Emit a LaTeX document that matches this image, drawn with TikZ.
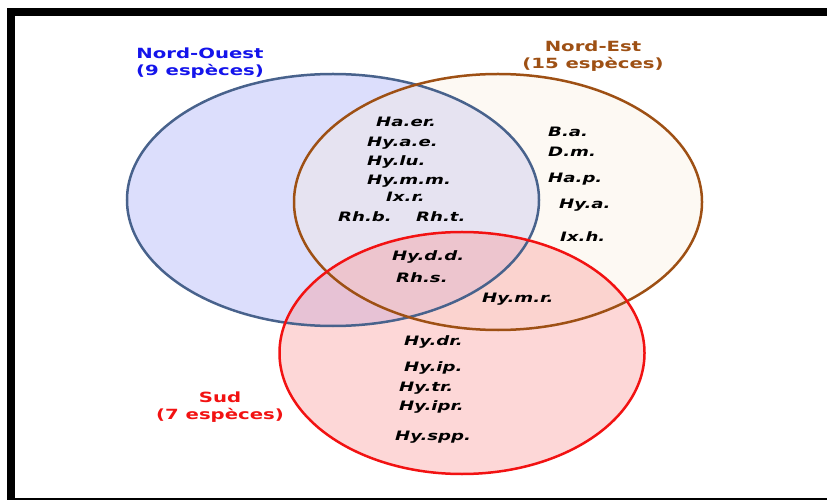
\documentclass[tikz,border=0pt]{standalone}
\usepackage{fontspec}
\usepackage{tikz}
\newfontfamily\vfont[FakeStretch=1.4]{DejaVu Sans}
\usetikzlibrary{positioning}
\definecolor{nwblue}{RGB}{72,98,140}
\definecolor{nwfill}{RGB}{220,222,252}
\definecolor{nwtext}{RGB}{20,20,235}
\definecolor{nebrown}{RGB}{158,80,20}
\definecolor{nefill}{RGB}{250,238,222}
\definecolor{sred}{RGB}{242,18,18}
\definecolor{sfill}{RGB}{250,150,150}
\tikzset{
  zone/.style={font=\vfont\bfseries\fontsize{14.1}{16.5}\selectfont, align=center, inner sep=0pt},
  sp/.style={font=\vfont\bfseries\itshape\fontsize{13}{14}\selectfont, anchor=west,
    inner sep=0pt, text height=9.5bp, text depth=0pt},
  ring/.style={line width=2.5bp}
}

\begin{document}
\begin{tikzpicture}[x=1bp, y=-1bp]
    \clip (0,0) rectangle (827,500);
    \fill [white] (0,0) rectangle (827,500);
    \draw [line width=8bp] (11,12) rectangle (840,502);

    % zones
    \fill [nwfill] (333,200) ellipse [x radius=206bp, y radius=126bp];
    \fill [nefill, opacity=0.35] (498,202) ellipse [x radius=204bp, y radius=128bp];
    \fill [sfill, opacity=0.38] (462,353) ellipse [x radius=182.5bp, y radius=121bp];
    \draw [ring, nwblue] (333,200) ellipse [x radius=206bp, y radius=126bp];
    \draw [ring, nebrown] (498,202) ellipse [x radius=204bp, y radius=128bp];
    \draw [ring, sred] (462,353) ellipse [x radius=182.5bp, y radius=121bp];

    \node [zone, text=nwtext] (no) at (200,63) {Nord-Ouest\\(9 espèces)};
    \node [zone, text=nebrown] (ne) at (593,56) {Nord-Est\\(15 espèces)};
    \node [zone, text=sred] (su) at (220,407) {Sud\\(7 espèces)};

    % especes
    \node [sp] (haer) at (376,122) {Ha.er.};
    \node [sp] (hyae) at (367,142) {Hy.a.e.};
    \node [sp] (hylu) at (367,161) {Hy.lu.};
    \node [sp] (hymm) at (367,180) {Hy.m.m.};
    \node [sp] (ixr) at (386,197) {Ix.r.};
    \node [sp] (rhb) at (338,217) {Rh.b.};
    \node [sp] (rht) at (416,217) {Rh.t.};
    \node [sp] (ba) at (548,132) {B.a.};
    \node [sp] (dm) at (548,152) {D.m.};
    \node [sp] (hap) at (548,178) {Ha.p.};
    \node [sp] (hya) at (559,204) {Hy.a.};
    \node [sp] (ixh) at (560,237) {Ix.h.};
    \node [sp] (hydd) at (392,256) {Hy.d.d.};
    \node [sp] (rhs) at (396,278) {Rh.s.};
    \node [sp] (hymr) at (482,298) {Hy.m.r.};
    \node [sp] (hydr) at (404,341) {Hy.dr.};
    \node [sp] (hyip) at (404,367) {Hy.ip.};
    \node [sp] (hytr) at (399,387) {Hy.tr.};
    \node [sp] (hyipr) at (399,406) {Hy.ipr.};
    \node [sp] (hyspp) at (395,436) {Hy.spp.};
  \end{tikzpicture}
\end{document}
